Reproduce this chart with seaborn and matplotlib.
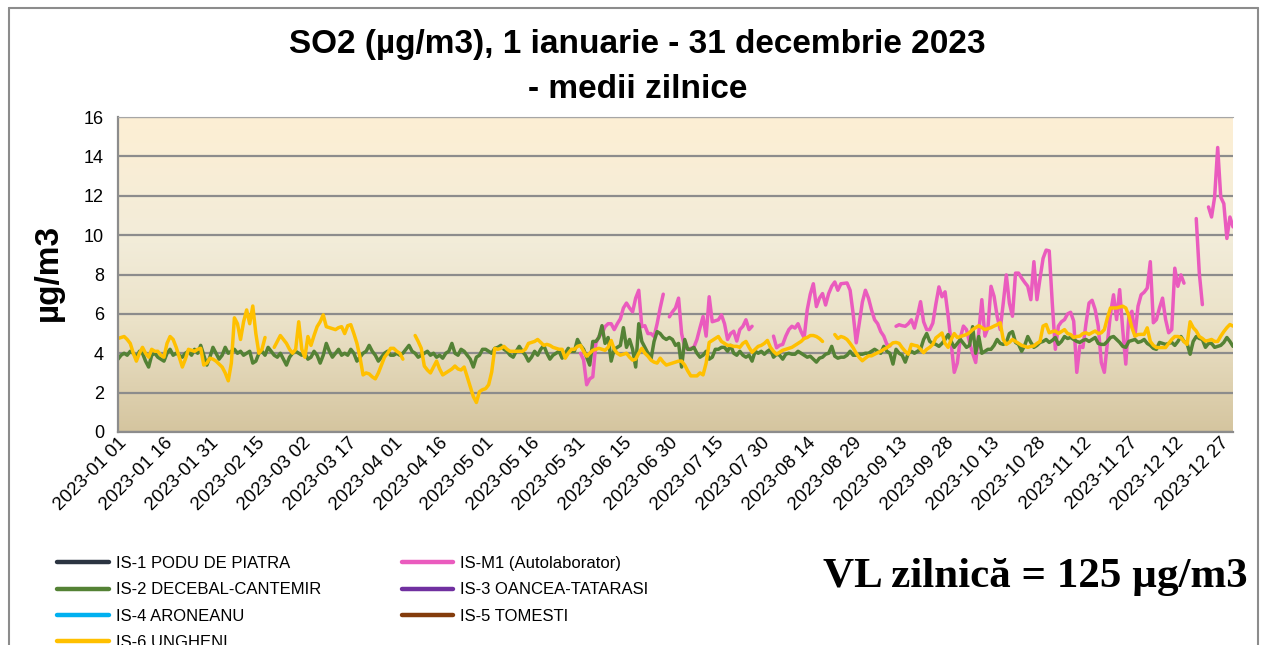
"""
SO2 - medii zilnice 2023, statiile din Iasi
"""

import numpy as np
import pandas as pd
import matplotlib
matplotlib.use('Agg')
import matplotlib.pyplot as plt
from matplotlib.lines import Line2D
from matplotlib.colors import LinearSegmentedColormap
import seaborn as sns

sns.set_theme(style='white')
plt.rcParams['font.family'] = ['Liberation Sans', 'DejaVu Sans']
plt.rcParams['text.color'] = 'black'
plt.rcParams['xtick.color'] = 'black'
plt.rcParams['ytick.color'] = 'black'

nan = np.nan

# date: medii zilnice 1 ian - 31 dec 2023
zile = pd.date_range('2023-01-01', '2023-12-31', freq='D')

is2_decebal = [
    3.7, 3.9, 4.0, 3.9, 4.1, 4.0, 3.8, 4.1, 4.0, 3.6,
    3.3, 3.9, 4.0, 3.8, 3.7, 3.6, 4.0, 4.2, 3.9, 4.0,
    3.9, 3.8, 4.0, 4.1, 3.9, 4.2, 4.0, 4.4, 3.9, 3.4,
    3.8, 4.3, 4.0, 3.7, 3.9, 4.3, 4.0, 4.1, 4.2, 4.0,
    4.1, 3.9, 4.0, 4.1, 3.5, 3.6, 4.0, 4.1, 3.9, 4.3,
    4.1, 3.9, 3.8, 4.0, 3.7, 3.4, 3.8, 4.0, 4.1, 4.0,
    3.9, 4.0, 3.7, 3.8, 4.1, 3.9, 3.5, 3.9, 4.5, 4.1,
    3.8, 4.0, 4.2, 3.9, 4.0, 3.9, 4.2, 4.0, 3.6, 3.8,
    4.0, 4.1, 4.4, 4.1, 3.9, 3.6, 3.8, 4.0, 4.1, 3.9,
    3.9, 4.0, 3.9, 4.0, 4.2, 4.4, 4.1, 4.0, 3.8, 3.9,
    4.0, 4.1, 3.9, 4.0, 3.8, 3.9, 3.75, 4.0, 4.1, 4.5,
    4.0, 3.9, 4.2, 4.1, 3.9, 3.7, 3.3, 3.8, 3.9, 4.2,
    4.2, 4.1, 4.0, 4.25, 4.3, 4.4, 4.2, 4.1, 3.9, 3.8,
    4.1, 4.35, 4.1, 3.9, 3.6, 3.8, 4.1, 3.9, 4.2, 4.4,
    4.0, 3.7, 3.9, 4.0, 4.1, 3.75, 4.0, 4.25, 4.1, 4.1,
    4.7, 4.4, 4.2, 3.8, 3.4, 4.6, 4.6, 4.8, 5.4, 4.5,
    4.8, 3.6, 4.2, 4.3, 4.4, 5.3, 4.3, 4.7, 4.2, 3.3,
    5.5, 4.6, 4.3, 4.0, 3.7, 4.6, 5.1, 5.0, 4.8, 4.7,
    4.8, 4.7, 4.4, 4.5, 3.3, 4.7, 4.2, 4.2, 4.3, 4.0,
    3.8, 3.9, 4.1, 3.7, 3.8, 4.2, 4.2, 4.3, 4.3, 4.1,
    4.4, 4.0, 3.9, 4.1, 3.9, 3.8, 3.9, 3.6, 4.1, 4.0,
    4.1, 3.95, 4.1, 4.2, 3.8, 3.95, 3.9, 3.7, 3.95, 4.0,
    3.95, 3.95, 4.1, 4.0, 3.9, 3.8, 3.85, 3.7, 3.55, 3.75,
    3.8, 3.95, 4.0, 4.35, 3.85, 3.75, 3.8, 3.8, 3.9, 4.1,
    3.9, 3.9, 3.95, 3.95, 4.0, 4.0, 4.1, 4.2, 4.1, 4.0,
    4.35, 4.1, 4.0, 3.45, 4.2, 4.0, 3.9, 3.55, 4.0, 4.1,
    4.0, 4.1, 4.2, 4.7, 5.0, 4.6, 4.5, 4.45, 4.35, 4.5,
    4.7, 4.95, 4.6, 4.3, 4.5, 4.7, 4.5, 4.3, 4.4, 5.35,
    4.0, 4.85, 4.0, 4.1, 4.2, 4.2, 4.4, 4.7, 4.5, 4.45,
    4.55, 5.0, 5.1, 4.55, 4.45, 4.1, 4.4, 4.85, 4.55, 4.3,
    4.4, 4.55, 4.6, 4.7, 4.55, 4.65, 4.8, 4.45, 4.6, 4.85,
    4.75, 4.8, 4.7, 4.6, 4.55, 4.65, 4.7, 4.6, 4.7, 4.8,
    4.5, 4.45, 4.45, 4.6, 4.8, 4.85, 4.7, 4.55, 4.35, 4.3,
    4.6, 4.65, 4.7, 4.55, 4.6, 4.7, 4.5, 4.4, 4.25, 4.2,
    4.55, 4.5, 4.45, 4.5, 4.55, 4.4, 4.6, 4.85, 4.6, 4.5,
    3.95, 4.6, 4.85, 4.75, 4.7, 4.3, 4.5, 4.5, 4.3, 4.35,
    4.4, 4.55, 4.8, 4.6, 4.35,
]

is6_ungheni = [
    4.75, 4.8, 4.85, 4.7, 4.5, 4.0, 3.6, 4.0, 4.3, 4.0,
    3.8, 4.2, 4.1, 4.1, 3.9, 3.8, 4.5, 4.85, 4.7, 4.3,
    3.8, 3.3, 3.7, 4.2, 4.15, 4.1, 4.2, 4.25, 3.4, 3.5,
    3.75, 3.7, 3.6, 3.45, 3.3, 3.0, 2.6, 3.5, 5.8, 5.5,
    4.7, 5.6, 6.2, 5.5, 6.4, 5.0, 4.0, 4.2, 4.8, nan,
    nan, 4.3, 4.6, 4.9, 4.7, 4.5, 4.2, 4.0, 4.2, 5.6,
    4.2, 3.8, 4.85, 4.4, 4.9, 5.35, 5.6, 5.95, 5.35, 5.3,
    5.25, 5.2, 5.3, 5.35, 5.0, 5.4, 5.45, 5.0, 4.5, 3.8,
    2.9, 3.0, 2.95, 2.8, 2.7, 3.0, 3.4, 3.8, 4.0, 4.25,
    4.25, 4.1, 4.0, 3.7, nan, nan, nan, 4.9, 4.6, 4.25,
    3.35, 3.15, 3.0, 3.3, 3.6, 3.2, 2.9, 3.0, 3.1, 3.2,
    3.35, 3.2, 3.15, 3.3, 2.8, 2.3, 1.8, 1.5, 2.05, 2.15,
    2.2, 2.4, 3.05, 4.25, 4.2, 4.25, 4.35, 4.2, 4.1, 4.1,
    4.1, 4.1, 4.1, 4.2, 4.5, 4.55, 4.6, 4.7, 4.55, 4.4,
    4.45, 4.4, 4.3, 4.25, 4.2, 4.2, 3.75, 4.0, 4.2, 4.2,
    4.35, 4.4, 4.1, 3.85, 4.0, 4.15, 4.2, 4.25, 4.2, 4.15,
    4.3, 4.65, 4.2, 4.0, 3.9, 3.95, 4.0, 3.8, 3.65, 3.7,
    4.0, 4.25, 4.0, 3.85, 3.65, 3.55, 3.5, 3.75, 3.55, 3.4,
    3.45, 3.5, 3.55, 3.6, 3.6, 3.4, 3.1, 2.85, 2.85, 2.85,
    3.0, 2.9, 3.5, 4.55, 4.65, 4.75, 4.85, 4.6, 4.5, 4.4,
    4.4, 4.35, 4.35, 4.3, 4.5, 4.6, 4.3, 4.05, 4.2, 4.35,
    4.4, 4.5, 4.65, 4.3, 4.1, 3.95, 4.05, 4.15, 4.2, 4.25,
    4.3, 4.4, 4.5, 4.6, 4.75, 4.8, 4.9, 4.9, 4.85, 4.75,
    4.6, nan, nan, nan, 4.95, 4.75, 4.85, 4.8, 4.7, 4.5,
    4.28, 4.0, 3.78, 3.62, 3.75, 3.87, 3.87, 3.95, 4.03, 4.1,
    4.2, 4.28, 4.4, 4.53, 4.55, 4.5, 4.28, 4.1, 3.95, 4.45,
    4.4, 4.37, 4.2, 4.03, 4.2, 4.3, 4.45, 4.78, 4.9, 5.03,
    4.5, 4.3, 4.7, 5.0, 4.8, 4.85, 4.9, 4.95, 5.05, 5.2,
    5.3, 5.4, 5.3, 5.2, 5.25, 5.3, 5.38, 5.45, 5.55, 4.7,
    4.45, 4.55, 4.7, 4.6, 4.5, 4.4, 4.35, 4.3, 4.35, 4.37,
    4.5, 4.6, 5.38, 5.46, 5.04, 5.1, 5.13, 5.0, 5.1, 5.2,
    5.0, 4.95, 4.8, 4.85, 4.87, 5.0, 5.04, 4.96, 5.05, 5.13,
    5.0, 5.04, 5.2, 5.8, 6.3, 6.3, 6.3, 6.35, 6.39, 6.3,
    5.9, 5.3, 4.87, 4.95, 4.96, 4.96, 5.29, 4.6, 4.4, 4.29,
    4.29, 4.29, 4.29, 4.5, 4.7, 4.85, 4.85, 4.79, 4.6, 4.45,
    5.6, 5.3, 5.13, 4.85, 4.75, 4.62, 4.65, 4.7, 4.6, 4.6,
    4.87, 5.1, 5.3, 5.46, 5.38,
]

# autolaboratorul incepe masuratorile la 1 iunie
ism1_autolab = [nan] * 151 + [
    4.0, 3.66, 2.4, 2.7, 2.8, 4.5, 4.85, 5.0, 5.35, 5.5,
    5.5, 5.2, 5.5, 5.75, 6.3, 6.55, 6.3, 6.1, 6.8, 7.2,
    5.35, 5.4, 5.0, 5.0, 4.85, 5.5, 6.3, 7.0, nan, 5.85,
    6.1, 6.3, 6.8, 5.0, 4.3, 4.2, 4.25, 4.3, 4.7, 5.3,
    5.87, 4.87, 6.87, 5.6, 5.65, 5.7, 5.95, 5.5, 4.7, 5.0,
    5.12, 4.62, 5.2, 5.37, 5.7, 5.2, 5.37, nan, nan, nan,
    nan, nan, nan, 4.87, 4.28, 4.4, 4.45, 4.87, 5.2, 5.37,
    5.28, 5.5, 5.1, 4.78, 6.2, 7.0, 7.53, 6.37, 6.8, 7.03,
    6.45, 7.03, 7.4, 7.62, 7.2, 7.53, 7.55, 7.57, 7.2, 6.0,
    4.53, 5.53, 6.6, 7.2, 6.8, 6.2, 5.7, 5.5, 5.1, 4.87,
    4.45, 4.37, nan, 5.37, 5.45, 5.4, 5.37, 5.5, 5.7, 5.28,
    5.9, 6.62, 5.6, 5.2, 5.2, 5.53, 6.5, 7.37, 6.87, 7.12,
    5.9, 4.5, 3.03, 3.5, 4.8, 5.38, 5.2, 4.54, 4.0, 3.53,
    5.04, 6.72, 4.87, 5.29, 7.4, 6.89, 5.88, 5.2, 6.55, 7.98,
    6.55, 5.88, 8.07, 8.07, 7.82, 7.6, 7.4, 6.72, 8.65, 6.72,
    7.8, 8.82, 9.24, 9.2, 6.55, 4.2, 5.38, 5.6, 5.71, 6.0,
    6.08, 5.63, 3.03, 4.37, 4.29, 5.5, 6.55, 6.69, 6.22, 5.38,
    3.53, 3.03, 4.54, 6.0, 6.97, 5.71, 7.23, 5.2, 3.45, 5.88,
    6.13, 4.87, 6.39, 6.97, 7.1, 7.31, 8.65, 5.55, 5.71, 6.3,
    6.8, 5.71, 5.04, 5.2, 8.32, 7.4, 7.98, 7.56, nan, nan,
    nan, 10.84, 8.07, 6.47, nan, 11.43, 10.92, 11.93, 14.45, 11.93,
    11.6, 9.83, 10.92, 10.42,
]

assert len(is2_decebal) == len(zile)
assert len(is6_ungheni) == len(zile)
assert len(ism1_autolab) == len(zile)

statii = ['IS-1 PODU DE PIATRA', 'IS-2 DECEBAL-CANTEMIR', 'IS-4 ARONEANU',
          'IS-6 UNGHENI', 'IS-M1 (Autolaborator)', 'IS-3 OANCEA-TATARASI',
          'IS-5 TOMESTI']
culori = {
    'IS-1 PODU DE PIATRA': '#2B3441',
    'IS-2 DECEBAL-CANTEMIR': '#548235',
    'IS-4 ARONEANU': '#00B0F0',
    'IS-6 UNGHENI': '#FFC000',
    'IS-M1 (Autolaborator)': '#EA5BBE',
    'IS-3 OANCEA-TATARASI': '#7030A0',
    'IS-5 TOMESTI': '#843C0C',
}
# doar aceste statii au date SO2
serii = {
    'IS-M1 (Autolaborator)': ism1_autolab,
    'IS-2 DECEBAL-CANTEMIR': is2_decebal,
    'IS-6 UNGHENI': is6_ungheni,
}

W, H = 1267, 645
fig = plt.figure(figsize=(W / 100, H / 100), dpi=100)
rect = [118 / W, 1 - 432 / H, (1233 - 118) / W, (432 - 117) / H]

# fundal in gradient (stil Excel)
bg = fig.add_axes(rect, zorder=0)
cmap = LinearSegmentedColormap.from_list(
    'fundal', [(0.0, '#D5C59F'), (0.35, '#EBE2C8'), (0.6, '#F2ECD9'), (1.0, '#FDEFD4')])
bg.imshow(np.linspace(0, 1, 256).reshape(-1, 1), cmap=cmap, origin='lower',
          aspect='auto', extent=[0, 1, 0, 1])
bg.set_axis_off()

ax = fig.add_axes(rect, zorder=1)
ax.set_facecolor('none')

for nume, vals in serii.items():
    df = pd.DataFrame({'data': zile, 'val': vals})
    # segmente separate, ca sa ramana golurile din date
    df['seg'] = df['val'].isna().cumsum()
    df = df.dropna()
    sns.lineplot(data=df, x='data', y='val', units='seg', estimator=None,
                 color=culori[nume], linewidth=2.5, ax=ax, legend=False)

ax.set_xlim(zile[0], zile[-1])
ax.set_ylim(0, 16)
ax.set_yticks(range(0, 17, 2))
tick_zile = pd.date_range('2023-01-01', periods=25, freq='15D')
ax.set_xticks(tick_zile)
ax.set_xticklabels([d.strftime('%Y-%m %d') for d in tick_zile], rotation=45,
                   ha='right', va='top', rotation_mode='anchor', fontsize=13.5)
ax.tick_params(axis='y', labelsize=13, length=0, pad=10)
ax.tick_params(axis='x', length=0, pad=2)
ax.set_xlabel('')
ax.set_ylabel('')

ax.yaxis.grid(True, color='#8C8C8C', linewidth=1.6)
ax.xaxis.grid(False)
ax.set_axisbelow(True)
for side in ['left', 'bottom']:
    ax.spines[side].set_color('#8C8C8C')
    ax.spines[side].set_linewidth(1.6)
ax.spines['top'].set_color('#A6A6A6')
ax.spines['top'].set_linewidth(0.8)
ax.spines['right'].set_visible(False)

# titlu si eticheta axei Y
fig.text(0.503, 1 - 45 / H, 'SO2 (µg/m3), 1 ianuarie - 31 decembrie 2023',
         ha='center', va='center', fontsize=24, fontweight='bold')
fig.text(0.503, 1 - 90 / H, '- medii zilnice', ha='center', va='center',
         fontsize=24, fontweight='bold')
fig.text(48 / W, 1 - 272 / H, 'µg/m3', rotation=90, ha='center', va='center',
         fontsize=24, fontweight='bold')

# legenda: toate statiile, pe doua coloane
handles = [Line2D([0], [0], color=culori[s], linewidth=3.2) for s in statii]
fig.legend(handles, statii, loc='upper left', ncol=2, frameon=False,
           bbox_to_anchor=(57 / W, 1 - 556 / H), borderaxespad=0, borderpad=0,
           fontsize=12, handlelength=3.1, handletextpad=0.42,
           columnspacing=4.85, labelspacing=0.68)

fig.text(1035 / W, 1 - 577 / H, 'VL zilnică = 125 µg/m3', ha='center',
         va='center', fontsize=31, fontweight='bold',
         family=['Liberation Serif', 'DejaVu Serif'])

# chenarul graficului
for xy in [([9 / W, 9 / W], [0, 1 - 8 / H]),
           ([9 / W, 1258 / W], [1 - 8 / H, 1 - 8 / H]),
           ([1258 / W, 1258 / W], [0, 1 - 8 / H])]:
    fig.add_artist(Line2D(xy[0], xy[1], color='#8C8C8C', linewidth=1.5))

fig.savefig('out.png', dpi=100)
plt.close(fig)
